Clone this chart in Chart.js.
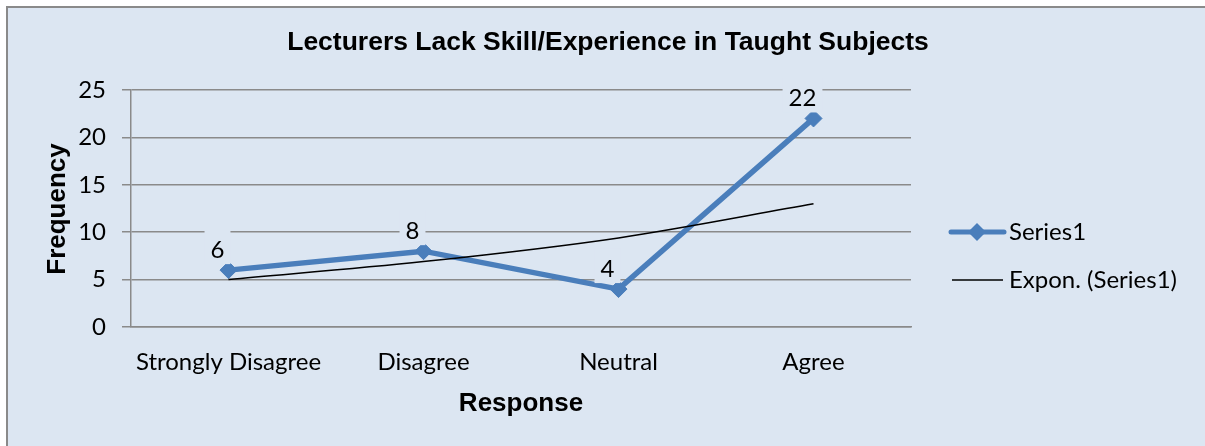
<!DOCTYPE html>
<html>
<head>
<meta charset="utf-8">
<script src="https://cdn.jsdelivr.net/npm/chart.js@4/dist/chart.umd.min.js"></script>
<style>
  html, body { margin: 0; padding: 0; background: #fff; }
  #wrap { width: 1205px; height: 446px; position: relative; }
</style>
</head>
<body>
<div id="wrap"><canvas id="myChart" width="1205" height="446"></canvas></div>
<script>
// data
var categories = ["Strongly Disagree", "Disagree", "Neutral", "Agree"];
var series1 = [6, 8, 4, 22];
var exponTrend = [5.0, 6.9, 9.4, 13.0];
var yTicks = [0, 5, 10, 15, 20, 25];

var chartTitle = "Lecturers Lack Skill/Experience in Taught Subjects";
var xTitle = "Response";
var yTitle = "Frequency";

var BG = '#dce6f2';
var GRID = '#8a8a8a';
var BLUE = '#4a7ebb';
var tickFont = "Lato, 'Noto Sans', sans-serif";
var boldFont = "'Liberation Sans', Arial, sans-serif";

// frame, titles, data labels and legend
var decor = {
    id: 'decor',
    beforeDraw: function(chart) {
        var c = chart.ctx;
        c.save();
        c.fillStyle = '#fff';
        c.fillRect(0, 0, chart.width, chart.height);
        c.fillStyle = BG;
        c.fillRect(7, 7, chart.width, chart.height);
        c.strokeStyle = GRID;
        c.lineWidth = 2;
        c.beginPath();
        c.moveTo(7, chart.height + 5);
        c.lineTo(7, 7);
        c.lineTo(chart.width + 5, 7);
        c.stroke();
        c.restore();
    },
    afterDatasetsDraw: function(chart) {
        var c = chart.ctx;
        var meta = chart.getDatasetMeta(0);
        c.save();
        c.font = "24px " + tickFont;
        c.textAlign = 'center';
        c.textBaseline = 'middle';
        meta.data.forEach(function(pt, i) {
            var txt = String(series1[i]);
            var x = pt.x - 11, y = pt.y - 20;
            var w = c.measureText(txt).width + 12;
            c.fillStyle = BG;
            c.fillRect(x - w / 2, y - 21, w, 35);
            c.fillStyle = '#000';
            c.fillText(txt, x, y);
        });
        c.restore();
    },
    afterDraw: function(chart) {
        var c = chart.ctx;
        c.save();
        c.fillStyle = '#000';
        // chart title
        c.font = "bold 26.5px " + boldFont;
        c.textAlign = 'center';
        c.textBaseline = 'alphabetic';
        c.fillText(chartTitle, 608, 50);
        // x axis title
        c.font = "bold 26px " + boldFont;
        c.fillText(xTitle, (chart.chartArea.left + chart.chartArea.right) / 2, 411);
        // y axis title
        c.save();
        c.translate(65, 209);
        c.rotate(-Math.PI / 2);
        c.fillText(yTitle, 0, 0);
        c.restore();

        // legend
        c.strokeStyle = BLUE;
        c.lineWidth = 5;
        c.lineCap = 'round';
        c.beginPath();
        c.moveTo(951, 232);
        c.lineTo(1004, 232);
        c.stroke();
        c.fillStyle = BLUE;
        c.beginPath();
        c.moveTo(977, 223);
        c.lineTo(986, 232);
        c.lineTo(977, 241);
        c.lineTo(968, 232);
        c.closePath();
        c.fill();
        c.strokeStyle = '#000';
        c.lineWidth = 1.5;
        c.lineCap = 'butt';
        c.beginPath();
        c.moveTo(952, 280);
        c.lineTo(1003, 280);
        c.stroke();
        c.fillStyle = '#000';
        c.font = "24px " + tickFont;
        c.textAlign = 'left';
        c.textBaseline = 'middle';
        c.fillText(chart.data.datasets[0].label, 1009, 232);
        c.fillText(chart.data.datasets[1].label, 1009, 280);
        c.restore();
    }
};

var ctx = document.getElementById("myChart");
var myChart = new Chart(ctx, {
    type: 'line',
    data: {
        labels: categories,
        datasets: [
            {
                label: "Series1",
                data: series1,
                borderColor: BLUE,
                backgroundColor: BLUE,
                borderWidth: 5.5,
                pointStyle: 'rectRot',
                pointRadius: 8.5,
                pointBackgroundColor: BLUE,
                pointBorderColor: BLUE,
                pointBorderWidth: 1,
                tension: 0,
                order: 1
            },
            {
                label: "Expon. (Series1)",
                data: exponTrend,
                borderColor: '#000',
                borderWidth: 1.5,
                pointRadius: 0,
                cubicInterpolationMode: 'monotone',
                order: 0
            }
        ]
    },
    options: {
        responsive: false,
        animation: false,
        layout: {
            padding: { left: 0, top: 90, right: 294, bottom: 0 }
        },
        plugins: {
            legend: { display: false },
            title: { display: false },
            tooltip: { enabled: false }
        },
        scales: {
            x: {
                offset: true,
                grid: { display: false, drawTicks: false },
                border: { display: true, color: GRID, width: 1.5 },
                ticks: {
                    color: '#000',
                    padding: 21,
                    maxRotation: 0,
                    font: { family: tickFont, size: 24 }
                },
                afterFit: function(scale) { scale.height = 119; }
            },
            y: {
                min: 0,
                max: 25,
                afterBuildTicks: function(scale) {
                    scale.ticks = yTicks.map(function(v) { return { value: v }; });
                },
                grid: {
                    color: GRID,
                    lineWidth: 1.5,
                    tickLength: 9,
                    drawTicks: true
                },
                border: { display: true, color: GRID, width: 1.5 },
                ticks: {
                    color: '#000',
                    padding: 16,
                    font: { family: tickFont, size: 24 }
                },
                afterFit: function(scale) { scale.width = 131; }
            }
        }
    },
    plugins: [decor]
});
</script>
</body>
</html>
